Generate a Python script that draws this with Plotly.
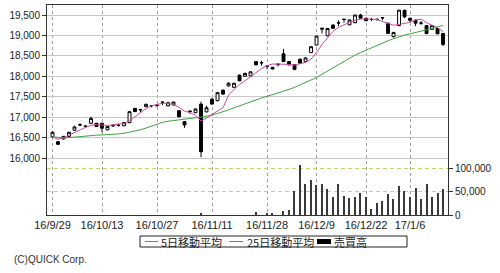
import plotly.graph_objects as go

dates = ["16/9/29","16/9/30","16/10/3","16/10/4","16/10/5","16/10/6","16/10/7","16/10/11","16/10/12","16/10/13",
         "16/10/14","16/10/17","16/10/18","16/10/19","16/10/20","16/10/21","16/10/24","16/10/25","16/10/26","16/10/27",
         "16/10/28","16/10/31","16/11/1","16/11/2","16/11/4","16/11/7","16/11/8","16/11/9","16/11/10","16/11/11",
         "16/11/14","16/11/15","16/11/16","16/11/17","16/11/18","16/11/21","16/11/22","16/11/24","16/11/25","16/11/28",
         "16/11/29","16/11/30","16/12/1","16/12/2","16/12/5","16/12/6","16/12/7","16/12/8","16/12/9","16/12/12",
         "16/12/13","16/12/14","16/12/15","16/12/16","16/12/19","16/12/20","16/12/21","16/12/22","16/12/26","16/12/27",
         "16/12/28","16/12/29","16/12/30","17/1/4","17/1/5","17/1/6","17/1/10","17/1/11","17/1/12","17/1/13",
         "17/1/16","17/1/17"]

tick_labels = ["16/9/29","16/10/13","16/10/27","16/11/11","16/11/28","16/12/9","16/12/22","17/1/6"]

open_ = [16522,16400,16470,16530,16680,16815,16780,16850,16850,16850,
         16690,16795,16805,16790,16865,17215,17190,17256,17285,17295,
         17370,17275,17300,17158,16890,17150,17110,17320,17130,17440,
         17403,17660,17765,17730,18030,18000,18010,18360,18335,18250,
         18220,18300,18550,18360,18280,18420,18360,18580,18765,19150,
         18990,19255,19310,19400,19260,19310,19500,19420,19395,19395,
         19440,19300,18970,19240,19615,19420,19370,19305,19240,19150,
         19170,19050]
high = [16660,16420,16540,16640,16790,16850,16810,17010,16860,16860,
        16780,16830,16840,16880,17140,17225,17200,17330,17290,17300,
        17380,17360,17380,17170,16900,17160,17210,17380,17280,17470,
        17610,17680,17850,17840,18040,18090,18120,18370,18380,18260,
        18230,18310,18670,18370,18290,18430,18460,18730,18990,19190,
        19180,19270,19370,19410,19390,19505,19530,19430,19430,19420,
        19450,19310,19080,19625,19630,19430,19390,19350,19250,19250,
        19180,19060]
low = [16500,16320,16450,16520,16670,16780,16750,16840,16760,16640,
       16680,16760,16770,16780,16860,17130,17110,17250,17240,17250,
       17300,17270,17290,17000,16740,17090,17100,16018,17120,17310,
       17390,17550,17750,17720,17880,17990,18000,18270,18260,18170,
       18170,18240,18350,18270,18150,18310,18350,18570,18760,19050,
       18980,19170,19230,19310,19250,19300,19410,19350,19350,19360,
       19370,19040,18950,19230,19420,19330,19230,19260,19030,19140,
       19030,18740]
close = [16629,16335,16530,16630,16760,16810,16775,16970,16770,16730,
         16770,16790,16800,16870,17135,17135,17180,17315,17280,17290,
         17365,17355,17370,17010,16810,17140,17200,16155,17230,17320,
         17600,17565,17830,17830,17890,18070,18110,18280,18330,18245,
         18180,18290,18360,18280,18170,18320,18450,18725,18985,19175,
         19170,19175,19305,19390,19380,19500,19420,19360,19390,19390,
         19430,19050,19075,19620,19460,19370,19300,19300,19050,19240,
         19040,18780]

ma5 = [16522,16458,16497,16564,16630,16690,16750,16800,16820,16810,
       16800,16810,16825,16850,16910,17010,17110,17210,17280,17310,
       17340,17335,17310,17240,17150,17110,17050,16900,16990,17060,
       17150,17230,17540,17680,17800,17890,17990,18080,18190,18260,
       18300,18300,18300,18290,18275,18300,18340,18420,18580,18780,
       18950,19100,19200,19270,19320,19370,19400,19405,19400,19390,
       19340,19290,19250,19270,19300,19320,19380,19400,19310,19250,
       19190,19090]

ma25 = [16520,16505,16495,16500,16515,16525,16535,16545,16560,16565,
        16570,16580,16590,16605,16630,16650,16690,16735,16785,16830,
        16875,16900,16920,16940,16955,16970,16985,17000,17020,17050,
        17090,17130,17180,17230,17280,17330,17380,17420,17470,17510,
        17550,17590,17630,17680,17730,17790,17850,17910,17970,18050,
        18130,18220,18300,18380,18450,18520,18580,18640,18700,18750,
        18810,18870,18920,18970,19010,19040,19070,19100,19130,19170,
        19210,19245]

volume = [0,0,0,0,0,0,0,0,0,0,
          0,0,0,0,0,0,0,0,0,0,
          0,0,0,0,0,0,0,3000,0,0,
          0,0,0,0,0,0,0,6000,0,3000,
          4000,0,8000,10000,51000,106000,67000,74000,63000,65000,
          55000,38000,66000,41000,37000,39000,46000,39000,13000,25000,
          30000,45000,35000,62000,51000,39000,57000,35000,65000,38000,
          47000,55000]

price_ticks = [16000,16500,17000,17500,18000,18500,19000,19500]
volume_ticks = [0,50000,100000]

series_names = ["5日移動平均", "25日移動平均", "売買高"]
ma5_color = "#cc4a9e"
ma25_color = "#3ea53e"
vol_color = "#3a3a3a"

x = list(range(len(dates)))
tickvals = [dates.index(t) for t in tick_labels]

# plot area in pixels
L, R, T, B = 47, 448, 5, 215
W, H = 500, 273

def px(v):
    return (v - L) / (R - L)

def py(v):
    return (B - v) / (B - T)

fig = go.Figure()

fig.add_trace(go.Bar(x=x, y=volume, yaxis="y2", width=0.2,
                     marker=dict(color=vol_color, line=dict(width=0)),
                     name=series_names[2], hoverinfo="skip"))
fig.add_trace(go.Scatter(x=x, y=ma25, mode="lines", line=dict(color=ma25_color, width=1),
                         name=series_names[1]))
fig.add_trace(go.Scatter(x=x, y=ma5, mode="lines", line=dict(color=ma5_color, width=1),
                         name=series_names[0]))
fig.add_trace(go.Candlestick(x=x, open=open_, high=high, low=low, close=close,
                             increasing=dict(line=dict(color="black", width=1), fillcolor="white"),
                             decreasing=dict(line=dict(color="black", width=1), fillcolor="black"),
                             whiskerwidth=0, name="OHLC"))

base_font = dict(family="Liberation Sans, Arial, sans-serif", size=10, color="#222")
jp_font = dict(family="Noto Sans CJK JP, sans-serif", size=11, color="#222")

# manual legend (box, line samples, bar sample)
shapes = [
    dict(type="rect", xref="paper", yref="paper", x0=px(140), x1=px(407), y0=py(247), y1=py(236),
         line=dict(color="#222", width=1), fillcolor="white", layer="above"),
    dict(type="line", xref="paper", yref="paper", x0=px(145), x1=px(158), y0=py(241.5), y1=py(241.5),
         line=dict(color=ma5_color, width=1), layer="above"),
    dict(type="line", xref="paper", yref="paper", x0=px(229), x1=px(243), y0=py(241.5), y1=py(241.5),
         line=dict(color=ma25_color, width=1), layer="above"),
    dict(type="rect", xref="paper", yref="paper", x0=px(317), x1=px(331), y0=py(244), y1=py(239),
         line=dict(width=0), fillcolor="black", layer="above"),
]
annotations = [
    dict(text=series_names[0], xref="paper", yref="paper", x=px(159), y=py(241.5),
         xanchor="left", yanchor="middle", showarrow=False, font=jp_font),
    dict(text=series_names[1], xref="paper", yref="paper", x=px(245), y=py(241.5),
         xanchor="left", yanchor="middle", showarrow=False, font=jp_font),
    dict(text=series_names[2], xref="paper", yref="paper", x=px(332), y=py(241.5),
         xanchor="left", yanchor="middle", showarrow=False, font=jp_font),
    dict(text="(C)QUICK Corp.", xref="paper", yref="paper",
         x=px(12), y=py(259), xanchor="left", yanchor="middle",
         showarrow=False, font=dict(family="Liberation Sans, Arial, sans-serif", size=10, color="#333")),
]

fig.update_layout(
    width=W, height=H,
    margin=dict(l=L, r=W - R, t=T, b=H - B, autoexpand=False),
    paper_bgcolor="white", plot_bgcolor="white",
    font=base_font,
    showlegend=False,
    boxgap=0.25,
    xaxis=dict(range=[-1, 71.9], tickvals=tickvals, ticktext=tick_labels,
               showgrid=True, gridcolor="#a0a0a0", griddash="3px,3px", gridwidth=1,
               showline=True, linecolor="#333", linewidth=1, mirror=True,
               ticks="", tickfont=dict(size=11, color="#222"),
               rangeslider=dict(visible=False), zeroline=False),
    yaxis=dict(range=[14606, 19745], tickvals=price_ticks, tickformat=",d",
               showgrid=True, gridcolor="#c8c8c8", gridwidth=1,
               showline=True, linecolor="#333", linewidth=1,
               ticks="outside", ticklen=4, tickcolor="#333",
               tickfont=dict(size=10, color="#222"), zeroline=False),
    yaxis2=dict(range=[0, 446800], overlaying="y", side="right",
                tickvals=volume_ticks, tickformat=",d",
                showgrid=True, gridcolor="#d9c96a", griddash="4px,3px", gridwidth=1,
                showline=True, linecolor="#333", linewidth=1,
                ticks="outside", ticklen=4, tickcolor="#333",
                tickfont=dict(size=10, color="#222"), zeroline=False),
    shapes=shapes,
    annotations=annotations,
    bargap=0,
)

fig.write_html("out.html")
